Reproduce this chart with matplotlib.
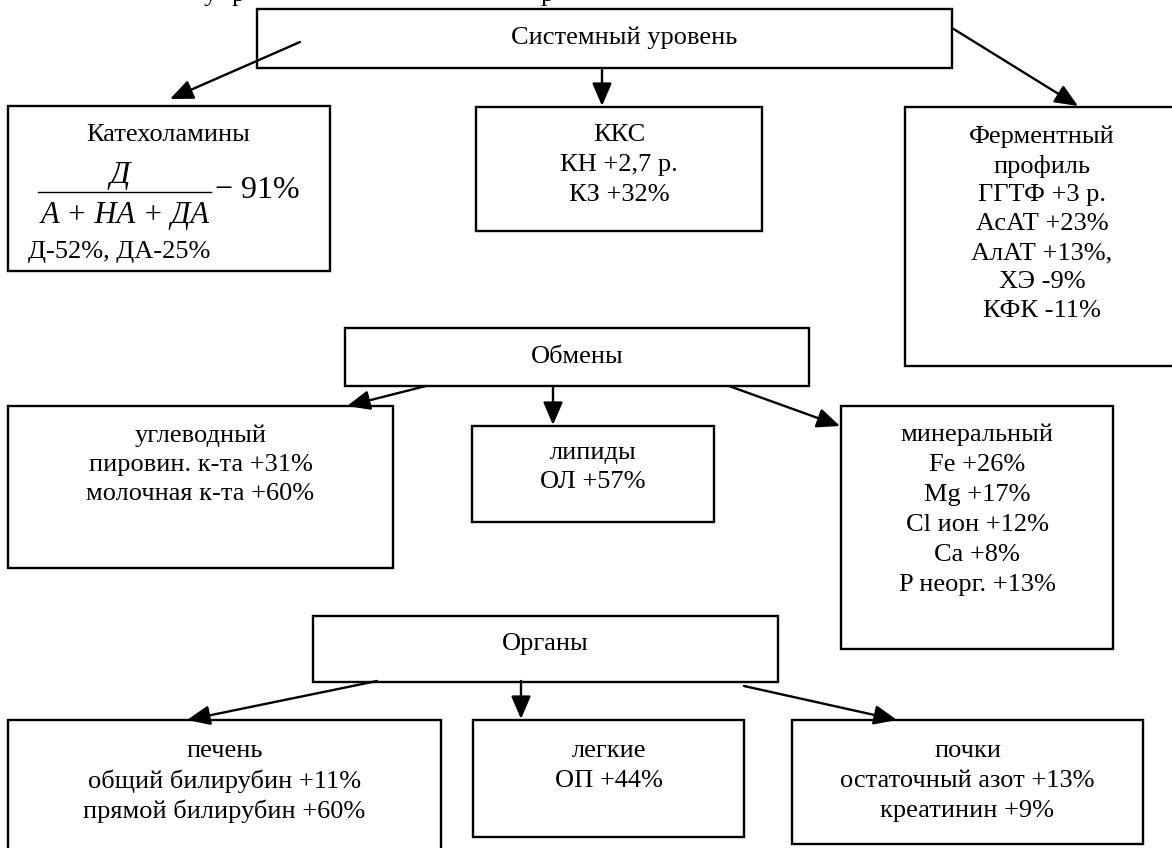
import matplotlib
matplotlib.use('Agg')
import matplotlib.pyplot as plt
from matplotlib.patches import Rectangle

plt.rcParams['font.family'] = ['Liberation Serif', 'DejaVu Serif']

# Texts of the scheme
sys_lines = ['Системный уровень']
kat_title = 'Катехоламины'
kat_num = 'Д'
kat_den = 'А + НА + ДА'
kat_value = '− 91%'
kat_note = 'Д-52%, ДА-25%'
kks_lines = ['ККС', 'КН +2,7 р.', 'КЗ +32%']
ferm_lines = ['Ферментный', 'профиль', 'ГГТФ +3 р.', 'АсАТ +23%',
              'АлАТ +13%,', 'ХЭ -9%', 'КФК -11%']
obm_lines = ['Обмены']
ugl_lines = ['углеводный', 'пировин. к-та +31%', 'молочная к-та +60%']
lip_lines = ['липиды', 'ОЛ +57%']
min_lines = ['минеральный', 'Fe +26%', 'Mg +17%', 'Cl ион +12%',
             'Ca +8%', 'P неорг. +13%']
org_lines = ['Органы']
pech_lines = ['печень', 'общий билирубин +11%', 'прямой билирубин +60%']
leg_lines = ['легкие', 'ОП +44%']
poch_lines = ['почки', 'остаточный азот +13%', 'креатинин +9%']

# layout: (x0, y0, x1, y1) in pixels, text centre x, first text line y, line step
boxes = {
    'sys': ((257, 9, 952, 68), 624, 38, 30, sys_lines),
    'kks': ((476, 107, 762, 231), None, 135, 30, kks_lines),
    'ferm': ((905, 107, 1185, 366), 1042, 137, 29, ferm_lines),
    'obm': ((345, 328, 809, 386), None, 357, 30, obm_lines),
    'ugl': ((8, 406, 393, 568), None, 436, 29, ugl_lines),
    'lip': ((472, 426, 714, 522), None, 453, 29, lip_lines),
    'min': ((841, 406, 1113, 649), None, 435, 30, min_lines),
    'org': ((313, 616, 778, 682), None, 644, 30, org_lines),
    'pech': ((8, 720, 441, 860), None, 751, 30, pech_lines),
    'leg': ((473, 720, 744, 837), None, 751, 30, leg_lines),
    'poch': ((792, 720, 1143, 844), None, 751, 30, poch_lines),
}
kat_rect = (8, 106, 330, 271)

# arrows: (start, tip)
arrows = [
    ((300, 42), (170, 99)),
    ((602, 68), (602, 106)),
    ((952, 28), (1078, 106)),
    ((426, 386), (347, 406)),
    ((553, 386), (553, 425)),
    ((729, 386), (840, 426)),
    ((377, 681), (187, 720)),
    ((521, 681), (521, 719)),
    ((744, 686), (897, 720)),
]

FS = 19
LW = 1.7

fig = plt.figure(figsize=(11.72, 8.48), dpi=100)
ax = fig.add_axes([0, 0, 1, 1])
ax.set_xlim(0, 1172)
ax.set_ylim(848, 0)
ax.axis('off')


def draw_rect(r):
    x0, y0, x1, y1 = r
    ax.add_patch(Rectangle((x0, y0), x1 - x0, y1 - y0, fc='white',
                           ec='black', lw=LW, zorder=2))


for key, (r, cx, ty, step, lines) in boxes.items():
    draw_rect(r)
    if cx is None:
        cx = (r[0] + r[2]) / 2
    for i, s in enumerate(lines):
        ax.text(cx, ty + i * step, s, fontsize=FS, ha='center',
                va='center', zorder=3)

# catecholamine box with the fraction
draw_rect(kat_rect)
ax.text(168, 135, kat_title, fontsize=FS, ha='center', va='center', zorder=3)
ax.text(120, 175, kat_num, fontsize=23, style='italic', ha='center',
        va='center', zorder=3)
ax.plot([38, 211], [192, 192], color='black', lw=1.0, zorder=3)
ax.text(125, 215, kat_den, fontsize=22, style='italic', ha='center',
        va='center', zorder=3)
ax.text(215, 190, kat_value, fontsize=23, ha='left', va='center', zorder=3)
ax.text(28, 252, kat_note, fontsize=FS, ha='left', va='center', zorder=3)

for (sx, sy), (tx, ty) in arrows:
    ax.annotate('', xy=(tx, ty), xytext=(sx, sy), zorder=4,
                arrowprops=dict(arrowstyle='-|>,head_length=0.7,head_width=0.3',
                                color='black', lw=LW, mutation_scale=20,
                                shrinkA=0, shrinkB=0))

# descenders of the cut-off line above the scheme
for x, ch in [(210, 'у'), (238, 'р'), (547, 'р')]:
    ax.text(x, 1, ch, fontsize=FS, ha='center', va='baseline', zorder=3)

fig.savefig('out.png', dpi=100)
